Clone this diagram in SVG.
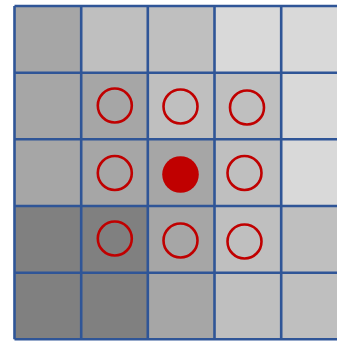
<svg xmlns="http://www.w3.org/2000/svg" width="337" height="341" viewBox="0 0 337 341">
<style>
.g1{fill:#A6A6A6}.g2{fill:#BFBFBF}.g3{fill:#D9D9D9}.g0{fill:#808080}
.ring{fill:none;stroke:#C00000;stroke-width:2.6}
.dot{fill:#C00000}
.grid{stroke:#2F5597;stroke-width:2.6;fill:none}
</style>
<g id="cells">
<rect class="g1" x="14.5" y="6" width="66.7" height="66.7"/>
<rect class="g2" x="81.2" y="6" width="66.7" height="66.7"/>
<rect class="g2" x="147.8" y="6" width="66.7" height="66.7"/>
<rect class="g3" x="214.5" y="6" width="66.7" height="66.7"/>
<rect class="g3" x="281.2" y="6" width="66.7" height="66.7"/>
<rect class="g1" x="14.5" y="72.7" width="66.7" height="66.7"/>
<rect class="g1" x="81.2" y="72.7" width="66.7" height="66.7"/>
<rect class="g2" x="147.8" y="72.7" width="66.7" height="66.7"/>
<rect class="g2" x="214.5" y="72.7" width="66.7" height="66.7"/>
<rect class="g3" x="281.2" y="72.7" width="66.7" height="66.7"/>
<rect class="g1" x="14.5" y="139.3" width="66.7" height="66.7"/>
<rect class="g1" x="81.2" y="139.3" width="66.7" height="66.7"/>
<rect class="g1" x="147.8" y="139.3" width="66.7" height="66.7"/>
<rect class="g2" x="214.5" y="139.3" width="66.7" height="66.7"/>
<rect class="g3" x="281.2" y="139.3" width="66.7" height="66.7"/>
<rect class="g0" x="14.5" y="206" width="66.7" height="66.7"/>
<rect class="g0" x="81.2" y="206" width="66.7" height="66.7"/>
<rect class="g1" x="147.8" y="206" width="66.7" height="66.7"/>
<rect class="g2" x="214.5" y="206" width="66.7" height="66.7"/>
<rect class="g2" x="281.2" y="206" width="66.7" height="66.7"/>
<rect class="g0" x="14.5" y="272.7" width="66.7" height="66.7"/>
<rect class="g0" x="81.2" y="272.7" width="66.7" height="66.7"/>
<rect class="g1" x="147.8" y="272.7" width="66.7" height="66.7"/>
<rect class="g2" x="214.5" y="272.7" width="66.7" height="66.7"/>
<rect class="g2" x="281.2" y="272.7" width="66.7" height="66.7"/>
</g>
<g id="gridlines" class="grid">
<path d="M14.5 6V339.3M81.2 6V339.3M147.8 6V339.3M214.5 6V339.3M281.2 6V339.3M14.5 6H348M14.5 72.7H348M14.5 139.3H348M14.5 206H348M14.5 272.7H348M14.5 339.3H348"/>
</g>
<g id="markers">
<circle class="ring" cx="114.8" cy="105.5" r="17"/>
<circle class="ring" cx="180.5" cy="106.5" r="17"/>
<circle class="ring" cx="247" cy="107.5" r="17"/>
<circle class="ring" cx="114.8" cy="173" r="17"/>
<circle class="dot" cx="180.5" cy="174.5" r="18.3"/>
<circle class="ring" cx="244.5" cy="173" r="17"/>
<circle class="ring" cx="114.8" cy="238.5" r="17"/>
<circle class="ring" cx="180.5" cy="240.5" r="17"/>
<circle class="ring" cx="244.5" cy="241.5" r="17"/>
</g>
</svg>
